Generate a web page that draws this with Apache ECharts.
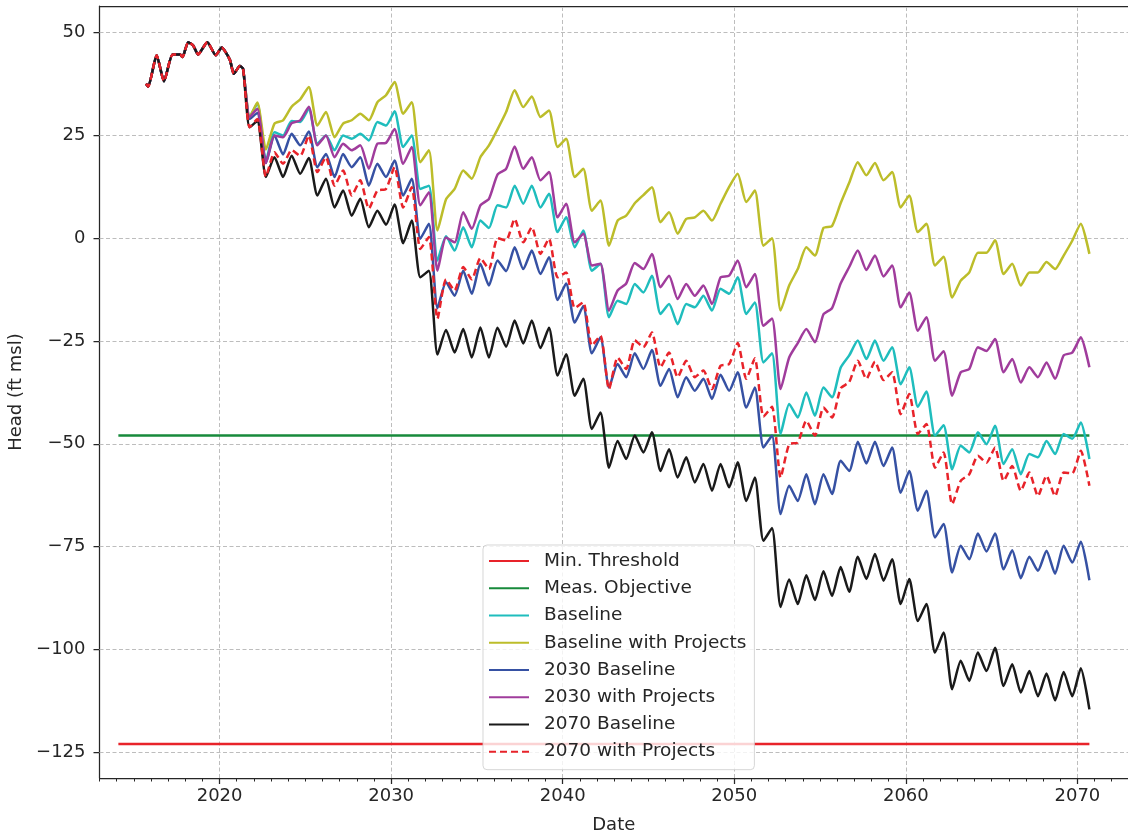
<!DOCTYPE html>
<html><head><meta charset="utf-8">
<script src="https://cdn.jsdelivr.net/npm/echarts@6/dist/echarts.min.js"></script>
<style>html,body{margin:0;padding:0;background:#fff}#chart{width:1128px;height:840px}</style>
</head><body><div id="chart"></div>
<script>
// ---- data ----
const histYears = [2015.71, 2015.84, 2016.33, 2016.76, 2017.26, 2017.69, 2017.84, 2018.17, 2018.46, 2018.75, 2019.28, 2019.78, 2020.12, 2020.60, 2020.83, 2021.18, 2021.37];
const histHead  = [37.6, 36.9, 44.5, 38.2, 44.7, 44.7, 44.1, 47.7, 46.9, 44.7, 47.7, 44.5, 46.4, 43.4, 40.0, 41.9, 41.2];

const projYears = [2021.75,
 2022.2,2022.7,2023.2,2023.7,2024.2,2024.7,2025.2,2025.7,2026.2,2026.7,
 2027.2,2027.7,2028.2,2028.7,2029.2,2029.7,2030.2,2030.7,2031.2,2031.7,
 2032.2,2032.7,2033.2,2033.7,2034.2,2034.7,2035.2,2035.7,2036.2,2036.7,
 2037.2,2037.7,2038.2,2038.7,2039.2,2039.7,2040.2,2040.7,2041.2,2041.7,
 2042.2,2042.7,2043.2,2043.7,2044.2,2044.7,2045.2,2045.7,2046.2,2046.7,
 2047.2,2047.7,2048.2,2048.7,2049.2,2049.7,2050.2,2050.7,2051.2,2051.7,
 2052.2,2052.7,2053.2,2053.7,2054.2,2054.7,2055.2,2055.7,2056.2,2056.7,
 2057.2,2057.7,2058.2,2058.7,2059.2,2059.7,2060.2,2060.7,2061.2,2061.7,
 2062.2,2062.7,2063.2,2063.7,2064.2,2064.7,2065.2,2065.7,2066.2,2066.7,
 2067.2,2067.7,2068.2,2068.7,2069.2,2069.7,2070.2,2070.7];

const baseline = [29.5,
 32.8,18.8, 25.8,25.0, 28.5,28.3, 31.5,23.0, 25.0,21.4,
 25.0,24.2, 25.4,23.8, 28.3,27.4, 30.9,22.2, 25.0,12.0,
 12.8,-5.4, 0.5,-3.0, 2.7,-2.2, 4.3,2.5, 8.0,7.5,
 12.8,8.4, 12.8,7.5, 10.8,1.5, 5.1,-2.2, 1.9,-7.9,
 -6.2,-19.2, -15.2,-16.0, -11.1,-13.2, -9.1,-18.4, -16.0,-20.9,
 -16.0,-16.8, -14.0,-17.6, -12.3,-13.5, -9.5,-18.4, -15.6,-30.2,
 -28.0,-47.6, -40.3,-43.6, -37.5,-43.2, -36.3,-38.7, -31.5,-28.5,
 -24.9,-29.4, -24.9,-29.8, -26.5,-35.5, -31.4,-41.0, -37.3,-48.0,
 -45.5,-56.2, -50.5,-52.1, -47.2,-50.1, -45.6,-54.9, -51.3,-57.4,
 -52.5,-53.3, -49.3,-52.5, -47.6,-48.8, -44.8,-53.7];

const baselineProj = [29.5,
 33.0,21.6, 27.9,28.7, 32.0,33.8, 36.8,27.4, 30.7,24.6,
 27.9,28.7, 30.3,28.7, 33.1,34.8, 38.0,30.3, 33.1,18.5,
 21.4,1.9, 9.5,12.0, 16.5,14.5, 19.7,22.6, 26.5,30.7,
 36.0,31.9, 34.5,29.5, 31.1,22.2, 24.2,14.9, 16.9,6.7,
 9.2,-1.8, 4.3,5.5, 8.5,10.5, 12.4,3.9, 6.3,1.1,
 4.7,5.1, 6.7,4.3, 8.4,12.5, 15.7,8.8, 11.6,-1.8,
 0.0,-17.6, -11.5,-7.5, -2.2,-4.2, 2.5,3.0, 8.5,13.5,
 18.5,15.3, 18.3,14.1, 16.1,7.5, 10.4,1.5, 3.5,-6.6,
 -4.5,-14.4, -10.3,-8.3, -3.5,-3.5, -0.5,-8.7, -6.2,-11.5,
 -8.3,-8.3, -5.8,-7.5, -4.2,-0.6, 3.5,-3.8];

const base2030 = [29.0,
 30.5,18.3, 25.0,20.4, 25.4,22.6, 26.0,17.3, 20.5,14.9,
 20.5,17.3, 19.7,12.8, 18.1,14.9, 18.9,10.4, 14.5,-0.1,
 3.5,-17.0, -10.7,-14.0, -7.9,-13.5, -6.2,-11.5, -5.4,-8.0,
 -2.2,-7.5, -3.0,-8.7, -4.6,-15.0, -11.0,-20.5, -16.5,-28.0,
 -24.1,-36.3, -30.6,-33.8, -28.0,-31.8, -27.2,-35.9, -31.8,-38.7,
 -33.8,-37.1, -34.2,-39.1, -33.2,-37.1, -32.6,-41.2, -36.3,-50.9,
 -48.0,-67.1, -60.2,-63.9, -57.4,-64.7, -57.4,-62.2, -54.1,-56.6,
 -49.5,-54.8, -49.5,-55.4, -50.9,-61.9, -56.6,-66.3, -61.4,-72.8,
 -69.5,-81.3, -74.8,-78.1, -71.8,-76.2, -71.8,-80.5, -75.9,-82.7,
 -77.5,-80.9, -76.0,-81.6, -74.8,-78.9, -73.8,-83.2];

const proj2030 = [29.5,
 31.5,18.3, 25.0,24.6, 28.0,28.7, 32.0,22.6, 25.0,19.7,
 23.0,21.4, 22.6,16.9, 23.0,23.2, 26.6,18.1, 22.2,8.0,
 11.2,-7.9, 0.2,-1.0, 6.3,2.3, 8.0,9.6, 15.5,16.9,
 22.3,16.9, 19.7,14.1, 16.1,5.1, 8.4,-1.0, 1.1,-6.6,
 -6.2,-17.6, -12.7,-11.0, -6.0,-7.5, -3.8,-11.9, -9.1,-14.8,
 -11.1,-14.0, -11.5,-16.0, -9.5,-9.1, -5.4,-11.9, -8.7,-21.3,
 -19.5,-36.7, -29.0,-25.5, -22.1,-25.3, -18.5,-17.0, -11.0,-7.0,
 -3.0,-7.7, -4.2,-9.3, -6.6,-16.8, -13.2,-22.5, -19.2,-29.8,
 -27.5,-38.3, -32.6,-31.8, -26.5,-27.4, -24.5,-32.6, -29.4,-35.1,
 -31.4,-33.8, -30.2,-34.2, -28.5,-27.8, -24.1,-31.4];

const base2070 = [27.0,
 28.5,14.9, 19.7,14.9, 20.1,15.7, 19.5,10.4, 14.5,7.5,
 11.6,5.5, 9.6,2.7, 6.7,3.3, 8.2,-1.2, 4.3,-9.5,
 -7.9,-28.3, -22.3,-27.8, -22.1,-29.0, -21.7,-29.0, -21.8,-26.4,
 -20.0,-25.6, -20.0,-26.7, -21.8,-33.4, -28.2,-38.3, -34.2,-46.4,
 -42.4,-55.8, -49.3,-53.7, -48.0,-52.1, -47.2,-56.6, -51.3,-58.2,
 -53.3,-59.4, -54.9,-61.4, -54.9,-60.6, -54.5,-63.9, -58.2,-73.6,
 -70.5,-89.7, -83.0,-89.0, -82.0,-88.0, -81.0,-87.0, -80.0,-86.0,
 -77.5,-82.9, -76.8,-83.3, -78.1,-89.0, -82.9,-93.1, -89.0,-100.8,
 -95.9,-109.7, -102.8,-107.7, -100.8,-105.3, -99.6,-108.9, -103.6,-110.5,
 -105.3,-111.4, -105.9,-112.4, -105.5,-111.4, -104.6,-114.6];

const proj2070 = [27.0,
 29.0,15.0, 20.9,18.1, 21.5,20.0, 25.0,16.1, 19.7,12.8,
 16.5,10.4, 14.1,7.2, 11.6,12.0, 17.3,7.5, 12.4,-2.6,
 0.3,-19.6, -10.0,-12.7, -7.0,-10.0, -4.8,-7.5, 0.0,-0.5,
 4.7,-1.0, 2.7,-3.8, -0.1,-9.5, -8.3,-17.0, -15.6,-26.1,
 -23.7,-36.7, -29.0,-31.8, -24.8,-26.5, -22.9,-31.4, -27.8,-33.8,
 -29.8,-33.8, -32.2,-36.7, -31.0,-30.6, -25.5,-34.2, -29.2,-43.4,
 -41.0,-58.2, -50.1,-49.7, -44.4,-48.0, -41.2,-43.6, -36.5,-35.0,
 -29.8,-34.2, -30.0,-34.5, -32.6,-42.8, -37.9,-47.6, -45.2,-55.8,
 -52.1,-64.7, -59.0,-57.4, -52.9,-54.6, -50.9,-59.0, -55.4,-61.4,
 -57.0,-62.7, -57.8,-62.7, -57.0,-57.2, -51.7,-60.2];

const limitYears = [2014.1, 2070.7];
const minThreshold = [-123, -123];
const measObjective = [-48, -48];

const xTicks = [2020, 2030, 2040, 2050, 2060, 2070];
const yTicks = [-125, -100, -75, -50, -25, 0, 25, 50];

// ---- chart ----
const FONT = 'DejaVu Sans';
const TXT = '#262626';
const AX = '#262626';
const allYears = histYears.concat(projYears);
const pairs = (xs, ys) => xs.map((x, i) => [x, ys[i]]);

function lineSeries(name, xs, ys, color, width, dashed, smooth) {
  return {
    name, type: 'line', xAxisIndex: 0, yAxisIndex: 0,
    data: pairs(xs, ys), symbol: 'none', showSymbol: false, smooth: smooth,
    lineStyle: { color, width, type: dashed ? [7, 4] : 'solid', cap: 'butt', join: 'round' },
    itemStyle: { color }, emphasis: { disabled: true }, silent: true, z: 3
  };
}

const names = ['Min. Threshold', 'Meas. Objective', 'Baseline', 'Baseline with Projects',
  '2030 Baseline', '2030 with Projects', '2070 Baseline', '2070 with Projects'];

const SM = 0.2;
const series = [
  {
    name: '_grid', type: 'line', data: [], silent: true, z: 1,
    markLine: {
      silent: true, symbol: ['none', 'none'], z: 1, animation: false,
      label: { show: false }, emphasis: { disabled: true },
      lineStyle: { color: '#bdbdbd', width: 1, type: [4, 2.5] },
      data: xTicks.map(v => ({ xAxis: v })).concat(yTicks.map(v => ({ yAxis: v })))
    }
  },
  lineSeries(names[0], limitYears, minThreshold, '#e8232a', 2.5, false, false),
  lineSeries(names[1], limitYears, measObjective, '#178a3b', 2.5, false, false),
  lineSeries(names[2], allYears, histHead.concat(baseline), '#1fbdbd', 2.5, false, SM),
  lineSeries(names[3], allYears, histHead.concat(baselineProj), '#bcbd2a', 2.5, false, SM),
  lineSeries(names[4], allYears, histHead.concat(base2030), '#3651a3', 2.5, false, SM),
  lineSeries(names[5], allYears, histHead.concat(proj2030), '#a03c9c', 2.5, false, SM),
  lineSeries(names[6], allYears, histHead.concat(base2070), '#1a1a1a', 2.5, false, SM),
  lineSeries(names[7], allYears, histHead.concat(proj2070), '#e8232a', 2.5, true, SM)
];

const chart = echarts.init(document.getElementById('chart'), null, { renderer: 'canvas' });
chart.setOption({
  animation: false,
  backgroundColor: '#ffffff',
  grid: { left: 99.5, right: 0, top: 6, bottom: 62, containLabel: false, outerBoundsMode: 'none' },
  legend: {
    data: names, orient: 'vertical', left: 483, top: 545,
    itemWidth: 40, itemHeight: 14, itemGap: 7.24,
    padding: [6, 8, 8, 5], selectedMode: false,
    itemStyle: { opacity: 0, borderWidth: 0 },
    backgroundColor: 'rgba(255,255,255,0.8)', borderColor: 'rgba(204,204,204,0.8)',
    borderWidth: 1, borderRadius: 4,
    textStyle: { fontFamily: FONT, fontSize: 18.5, color: TXT, lineHeight: 20, padding: [0, 0, 0, 10] }
  },
  xAxis: [
    {
      type: 'value', position: 'bottom', min: 2013, max: 2072.95,
      axisLine: { show: true, onZero: false, lineStyle: { color: AX, width: 1.25 } },
      axisTick: { show: true, customValues: xTicks, length: 6, lineStyle: { color: AX, width: 1.25 } },
      axisLabel: { customValues: xTicks, formatter: v => String(v), fontFamily: FONT, fontSize: 18, color: TXT, margin: 9 },
      splitLine: { show: false },
      name: 'Date', nameLocation: 'middle', nameGap: 38,
      nameTextStyle: { fontFamily: FONT, fontSize: 18, color: TXT }
    },
    {
      type: 'value', position: 'bottom', min: 2013, max: 2072.95, interval: 1,
      axisLine: { show: false, onZero: false },
      axisTick: { show: true, length: 3.5, lineStyle: { color: AX, width: 1 } },
      axisLabel: { show: false }, splitLine: { show: false }
    },
    {
      type: 'value', position: 'top', min: 2013, max: 2072.95,
      axisLine: { show: true, onZero: false, lineStyle: { color: AX, width: 1.25 } },
      axisTick: { show: false }, axisLabel: { show: false }, splitLine: { show: false }
    }
  ],
  yAxis: [{
    type: 'value', min: -131.3, max: 56.5,
    axisLine: { show: true, onZero: false, lineStyle: { color: AX, width: 1.25 } },
    axisTick: { show: true, customValues: yTicks, length: 6, lineStyle: { color: AX, width: 1.25 } },
    axisLabel: {
      customValues: yTicks, formatter: v => (v < 0 ? '\u2212' + Math.abs(v) : String(v)),
      fontFamily: FONT, fontSize: 18, color: TXT, margin: 14
    },
    splitLine: { show: false },
    name: 'Head (ft msl)', nameLocation: 'middle', nameGap: 72,
    nameTextStyle: { fontFamily: FONT, fontSize: 18, color: TXT }
  }],
  series
});
</script></body></html>
